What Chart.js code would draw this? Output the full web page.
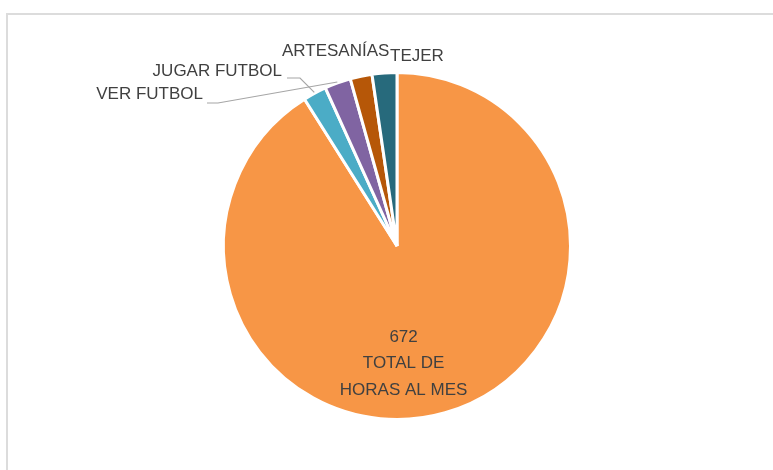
<!DOCTYPE html>
<html>
<head>
<meta charset="utf-8">
<script src="https://cdn.jsdelivr.net/npm/chart.js@4"></script>
<style>
  html, body { margin: 0; padding: 0; background: #fff; }
  .wrap { position: relative; width: 773px; height: 470px; overflow: hidden; }
  .frame { position: absolute; left: 6px; top: 13px; width: 800px; height: 500px; border: 2px solid #dcdcdc; box-sizing: border-box; }
  canvas { position: absolute; left: 0; top: 0; }
</style>
</head>
<body>
<div class="wrap">
  <div class="frame"></div>
  <canvas id="pie" width="773" height="470"></canvas>
</div>
<script>
const LABELS = ["TOTAL DE HORAS AL MES", "JUGAR FUTBOL", "VER FUTBOL", "ARTESANÍAS", "TEJER"];
const VALUES = [672, 16, 18, 15, 17];
const COLORS = ["#F79646", "#4BACC6", "#8064A2", "#B65708", "#276A7C"];

const FONT = "17px 'Liberation Sans', Arial, sans-serif";
const TEXT = "#404040";

// label placement for the small slices: text anchor, alignment, leader elbow (or none)
const TAGS = {
  1: { x: 282, y: 71, align: "right", elbow: [[287, 78], [300, 78]] },
  2: { x: 203, y: 94, align: "right", elbow: [[207, 103], [218, 103]] },
  3: { x: 282, y: 51, align: "left", elbow: null },
  4: { x: 390, y: 56, align: "left", elbow: null },
};

const labelPlugin = {
  id: "sliceLabels",
  afterDatasetsDraw(chart) {
    const ctx = chart.ctx;
    const arcs = chart.getDatasetMeta(0).data;
    ctx.save();
    ctx.font = FONT;
    ctx.fillStyle = TEXT;
    ctx.textBaseline = "middle";

    // big slice: value and category inside
    const big = arcs[0];
    const r = big.outerRadius;
    const cx = big.x + r * 0.038, cy = big.y + r * 0.525;
    ctx.textAlign = "center";
    [String(VALUES[0]), "TOTAL DE", "HORAS AL MES"].forEach((t, i) => ctx.fillText(t, cx, cy + i * 26.5));

    // small slices, with leader lines where the original has them
    for (const [i, tag] of Object.entries(TAGS)) {
      const a = arcs[i];
      const mid = (a.startAngle + a.endAngle) / 2;
      const ex = a.x + Math.cos(mid) * (a.outerRadius + 1);
      const ey = a.y + Math.sin(mid) * (a.outerRadius + 1);
      if (tag.elbow) {
        ctx.strokeStyle = "#a6a6a6";
        ctx.lineWidth = 1.2;
        ctx.beginPath();
        ctx.moveTo(tag.elbow[0][0], tag.elbow[0][1]);
        ctx.lineTo(tag.elbow[1][0], tag.elbow[1][1]);
        ctx.lineTo(ex, ey);
        ctx.stroke();
      }
      ctx.textAlign = tag.align;
      ctx.fillText(LABELS[i], tag.x, tag.y);
    }
    ctx.restore();
  },
};

new Chart(document.getElementById("pie"), {
  type: "pie",
  data: {
    labels: LABELS,
    datasets: [{
      data: VALUES,
      backgroundColor: COLORS,
      borderColor: "#ffffff",
      borderWidth: 3,
    }],
  },
  options: {
    responsive: false,
    animation: false,
    layout: { padding: { top: 71, bottom: 49, left: 21, right: 0 } },
    plugins: { legend: { display: false }, tooltip: { enabled: false } },
  },
  plugins: [labelPlugin],
});
</script>
</body>
</html>
